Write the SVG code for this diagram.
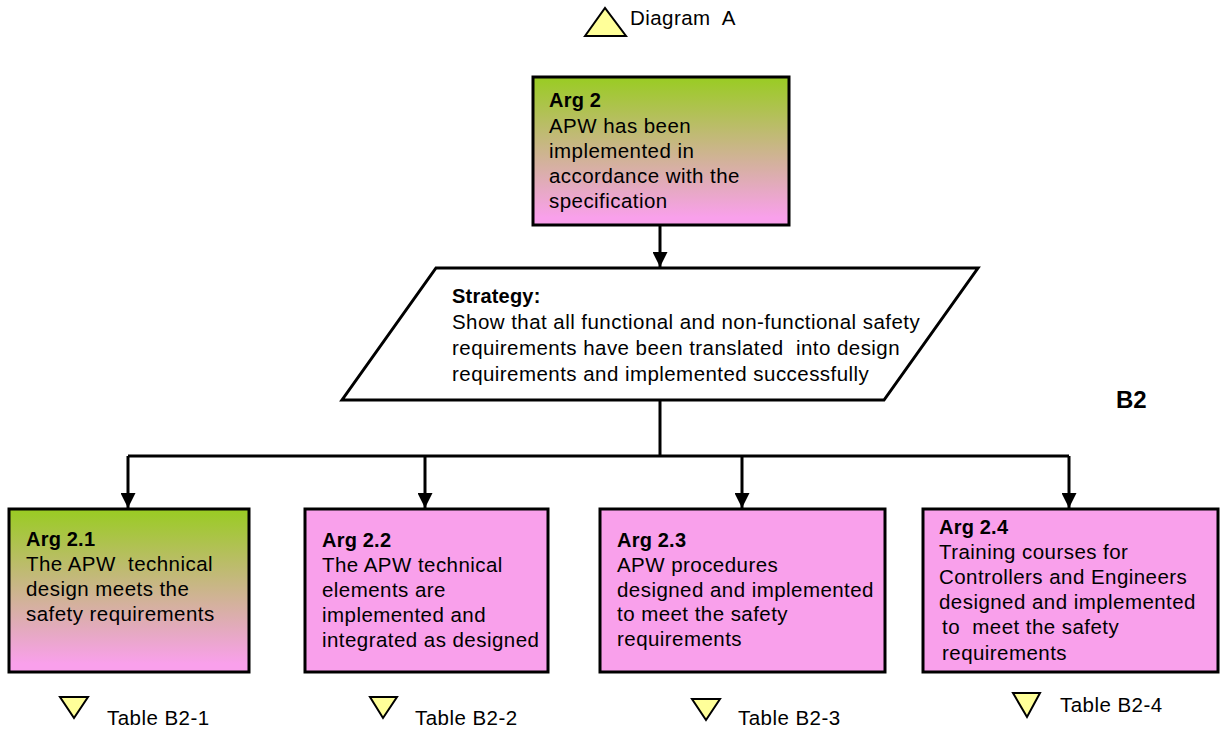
<svg xmlns="http://www.w3.org/2000/svg" width="1221" height="731" viewBox="0 0 1221 731">
<style>
text{font-family:"Liberation Sans",Arial,sans-serif;font-size:20.5px;fill:#000;letter-spacing:0.45px}
.b{font-weight:bold;font-size:20px;letter-spacing:0.2px}
.box{stroke:#000;stroke-width:3}
.pink{fill:#F9A0EB}
.grad{fill:url(#g)}
.tri{fill:#FFFF99;stroke:#000;stroke-width:2;stroke-linejoin:miter}
.con{stroke:#000;stroke-width:3;fill:none}
</style>
<defs>
<linearGradient id="g" x1="0" y1="0" x2="0" y2="1">
<stop offset="0" stop-color="#99CC22"/>
<stop offset="0.95" stop-color="#F9A0EB"/>
<stop offset="1" stop-color="#F9A0EB"/>
</linearGradient>
<marker id="ah" markerUnits="userSpaceOnUse" markerWidth="15" markerHeight="15" refX="15" refY="7.5" orient="auto" viewBox="0 0 15 15">
<path d="M0,0 L15,7.5 L0,15 z" fill="#000"/>
</marker>
</defs>
<g id="connectors">
<path class="con" d="M660,226 V267" marker-end="url(#ah)"/>
<path class="con" d="M660,400 V456"/>
<path class="con" d="M128,456 H1069"/>
<path class="con" d="M128,456 V508" marker-end="url(#ah)"/>
<path class="con" d="M425,456 V508" marker-end="url(#ah)"/>
<path class="con" d="M742,456 V508" marker-end="url(#ah)"/>
<path class="con" d="M1069,456 V508" marker-end="url(#ah)"/>
</g>
<g id="diagramA">
<polygon class="tri" points="585,36 605,8 626,36"/>
<text x="630" y="25">Diagram&#160; A</text>
</g>
<g id="arg2">
<rect class="box grad" x="533" y="77" width="256" height="148"/>
<text class="b" x="549" y="107">Arg 2</text>
<text x="549" y="133">APW has been</text>
<text x="549" y="158">implemented in</text>
<text x="549" y="183">accordance with the</text>
<text x="549" y="208">specification</text>
</g>
<g id="strategy">
<polygon points="436,268 978,268 884,400 342,400" fill="#fff" stroke="#000" stroke-width="3"/>
<text class="b" x="452" y="303">Strategy:</text>
<text x="452" y="329">Show that all functional and non-functional safety</text>
<text x="452" y="355">requirements have been translated&#160; into design</text>
<text x="452" y="381">requirements and implemented successfully</text>
</g>
<g id="b2label">
<text class="b" x="1116" y="408" style="font-size:24px;letter-spacing:0">B2</text>
</g>
<g id="arg21">
<rect class="box grad" x="9" y="509" width="240" height="163"/>
<text class="b" x="26" y="546">Arg 2.1</text>
<text x="26" y="571">The APW&#160; technical</text>
<text x="26" y="596">design meets the</text>
<text x="26" y="621">safety requirements</text>
</g>
<g id="arg22">
<rect class="box pink" x="305" y="509" width="243" height="163"/>
<text class="b" x="322" y="547">Arg 2.2</text>
<text x="322" y="572">The APW technical</text>
<text x="322" y="597">elements are</text>
<text x="322" y="622">implemented and</text>
<text x="322" y="647">integrated as designed</text>
</g>
<g id="arg23">
<rect class="box pink" x="600" y="509" width="285" height="163"/>
<text class="b" x="617" y="547">Arg 2.3</text>
<text x="617" y="572">APW procedures</text>
<text x="617" y="597">designed and implemented</text>
<text x="617" y="621">to meet the safety</text>
<text x="617" y="646">requirements</text>
</g>
<g id="arg24">
<rect class="box pink" x="923" y="509" width="295" height="163"/>
<text class="b" x="939" y="534">Arg 2.4</text>
<text x="939" y="559">Training courses for</text>
<text x="939" y="584">Controllers and Engineers</text>
<text x="939" y="609">designed and implemented</text>
<text x="942" y="634">to&#160; meet the safety</text>
<text x="942" y="660">requirements</text>
</g>
<g id="tableB21">
<polygon class="tri" points="60,697 88,697 74,718"/>
<text x="107" y="725">Table B2-1</text>
</g>
<g id="tableB22">
<polygon class="tri" points="370,697 397,697 383,718"/>
<text x="415" y="725">Table B2-2</text>
</g>
<g id="tableB23">
<polygon class="tri" points="692,699 720,699 706,720"/>
<text x="738" y="725">Table B2-3</text>
</g>
<g id="tableB24">
<polygon class="tri" points="1013,693 1040,693 1027,717"/>
<text x="1060" y="712">Table B2-4</text>
</g>
</svg>
